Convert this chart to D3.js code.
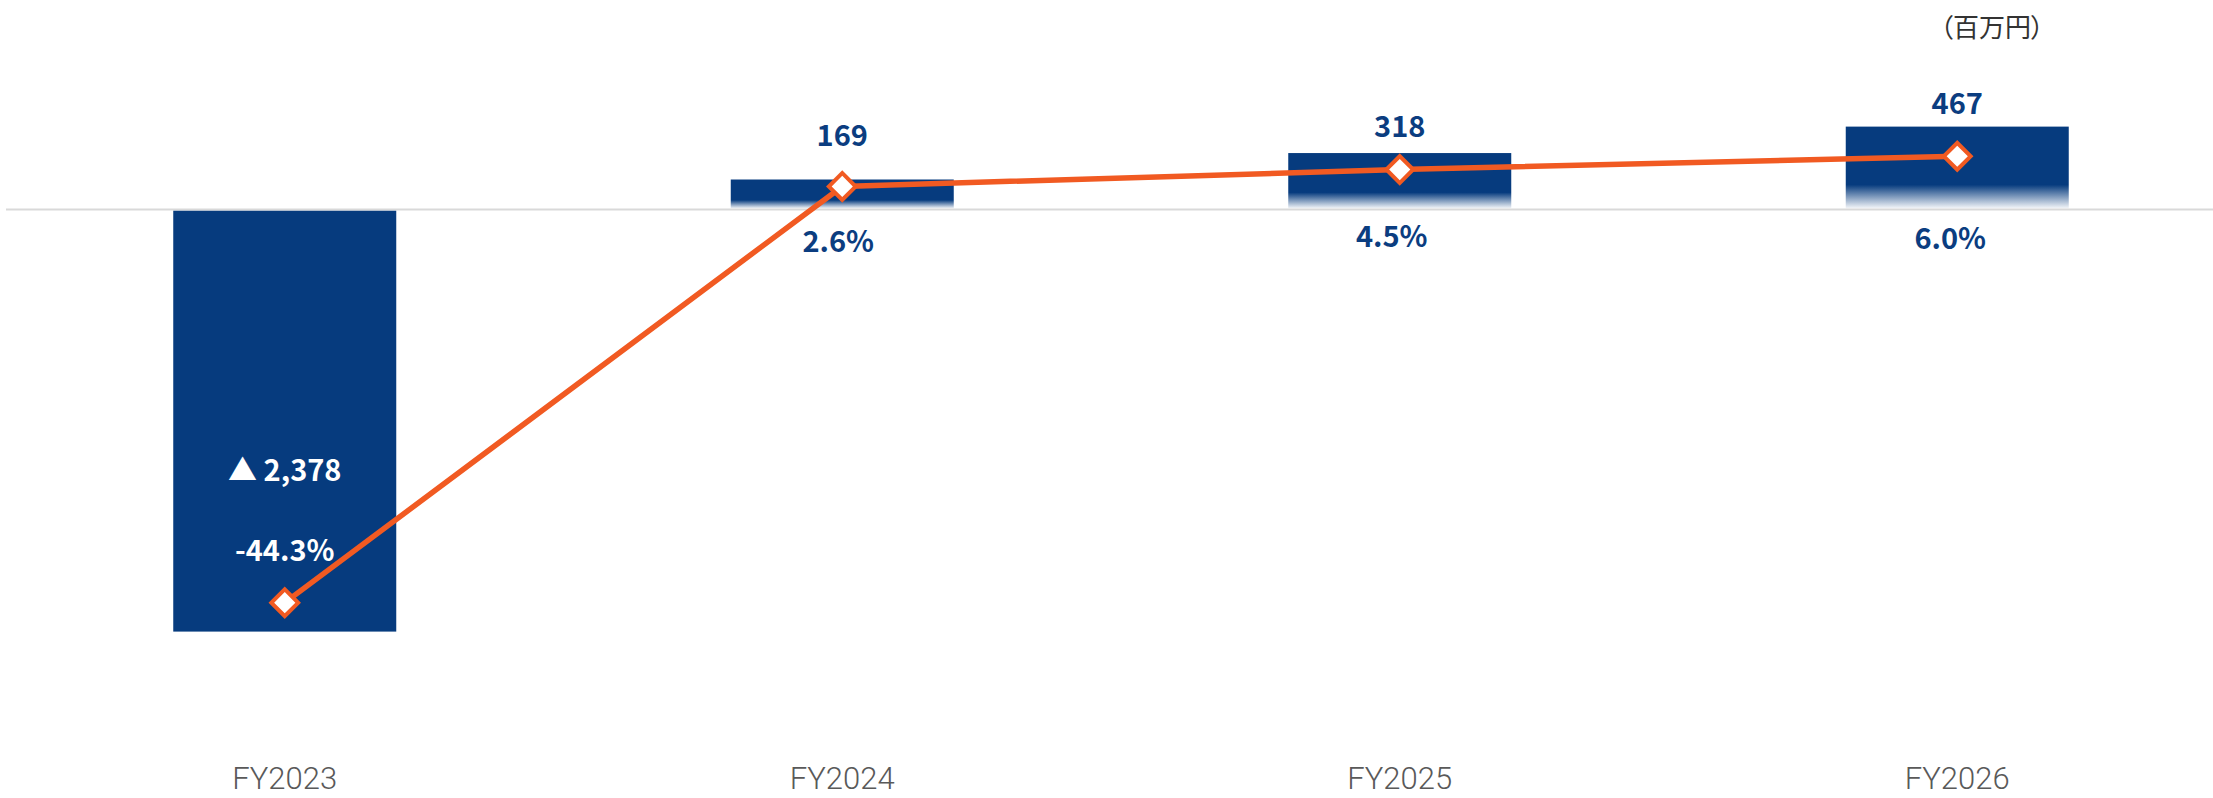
<!DOCTYPE html>
<html>
<head>
<meta charset="utf-8">
<script src="https://cdn.jsdelivr.net/npm/d3@7"></script>
<style>
  html, body { margin: 0; padding: 0; background: #fff; }
  svg { display: block; }
  text { font-family: "Noto Sans CJK JP", "Noto Sans", sans-serif; }
</style>
</head>
<body>
<svg id="chart" width="2213" height="798"></svg>
<script>
// ---- data ----
const categories = ["FY2023", "FY2024", "FY2025", "FY2026"];
const profit = [-2378, 169, 318, 467];        // 百万円
const margin = [-44.3, 2.6, 4.5, 6.0];        // %
const unitLabel = "（百万円）";

// ---- label nudges (layout only) ----
const valueLabelDy = [-151, -34, -16, -13];   // from bar end
const pctLabelDy = [351, 42, 37, 39];         // from zero line
const pctLabelDx = [0, -4, -8, -7];

const W = 2213, H = 798;
const svg = d3.select("#chart");

const x = d3.scaleBand().domain(categories).range([6, 2236]).paddingInner(0.6).paddingOuter(0.3);
const y = d3.scaleLinear().domain([-3000, 1000]).range([742, 32]);
const y2 = d3.scaleLinear().domain([-60, 20]).range([742, 32]);

const BLUE = "#063B7E", LABEL_BLUE = "#0B3D80", ORANGE = "#F15A22";

const defs = svg.append("defs");
const grad = defs.append("linearGradient").attr("id", "fade")
  .attr("x1", 0).attr("y1", 0).attr("x2", 0).attr("y2", 1);
grad.append("stop").attr("offset", "0%").attr("stop-color", BLUE).attr("stop-opacity", 1);
grad.append("stop").attr("offset", "71%").attr("stop-color", BLUE).attr("stop-opacity", 1);
grad.append("stop").attr("offset", "100%").attr("stop-color", BLUE).attr("stop-opacity", 0.04);

const data = categories.map((c, i) => ({ c, v: profit[i], p: margin[i], i }));

// bars
svg.append("g").selectAll("rect").data(data).join("rect")
  .attr("x", d => x(d.c))
  .attr("width", x.bandwidth())
  .attr("y", d => d.v >= 0 ? y(d.v) : y(0) + 1)
  .attr("height", d => d.v >= 0 ? y(0) - y(d.v) - 1 : y(d.v) - y(0) - 1)
  .attr("fill", d => d.v >= 0 ? "url(#fade)" : BLUE);

// zero line
svg.append("line")
  .attr("x1", x.range()[0]).attr("x2", x.range()[1])
  .attr("y1", y(0)).attr("y2", y(0))
  .attr("stroke", "#d9d9d9").attr("stroke-width", 2);

// category axis
const xAxis = d3.axisBottom(x).tickSize(0).tickPadding(0);
const gx = svg.append("g").attr("transform", "translate(0,789)").call(xAxis);
gx.select(".domain").remove();
gx.selectAll("text")
  .attr("dy", 0)
  .attr("fill", "#595959")
  .style("font-size", "31px")
  .style("font-weight", 300)
  .style("font-family", "Roboto, 'Noto Sans', sans-serif");

// value labels
const fmt = d3.format(",");
svg.append("g").selectAll("text").data(data).join("text")
  .attr("x", d => x(d.c) + x.bandwidth() / 2)
  .attr("y", d => y(d.v) + valueLabelDy[d.i])
  .attr("text-anchor", "middle")
  .attr("fill", d => d.v < 0 ? "#ffffff" : LABEL_BLUE)
  .style("font-size", "29px").style("font-weight", 700)
  .text(d => d.v < 0 ? "▲ " + fmt(Math.abs(d.v)) : fmt(d.v));

// percent labels
svg.append("g").selectAll("text").data(data).join("text")
  .attr("x", d => x(d.c) + x.bandwidth() / 2 + pctLabelDx[d.i])
  .attr("y", d => y(0) + pctLabelDy[d.i])
  .attr("text-anchor", "middle")
  .attr("fill", d => d.v < 0 ? "#ffffff" : LABEL_BLUE)
  .style("font-size", "29px").style("font-weight", 700)
  .text(d => d.p.toFixed(1) + "%");

// line
const line = d3.line().x(d => x(d.c) + x.bandwidth() / 2).y(d => y2(d.p));
svg.append("path").datum(data)
  .attr("d", line).attr("fill", "none")
  .attr("stroke", ORANGE).attr("stroke-width", 5.5).attr("stroke-linejoin", "round");

// markers
const sym = d3.symbol().type(d3.symbolSquare).size(360);
svg.append("g").selectAll("path").data(data).join("path")
  .attr("d", sym)
  .attr("transform", d => `translate(${x(d.c) + x.bandwidth() / 2},${y2(d.p)}) rotate(45)`)
  .attr("fill", "#ffffff").attr("stroke", ORANGE).attr("stroke-width", 4);

// unit label
svg.append("text")
  .attr("x", 1992).attr("y", 37)
  .attr("text-anchor", "middle")
  .attr("fill", "#333333")
  .style("font-size", "26px")
  .style("font-feature-settings", "'palt'")
  .text(unitLabel);
</script>
</body>
</html>
